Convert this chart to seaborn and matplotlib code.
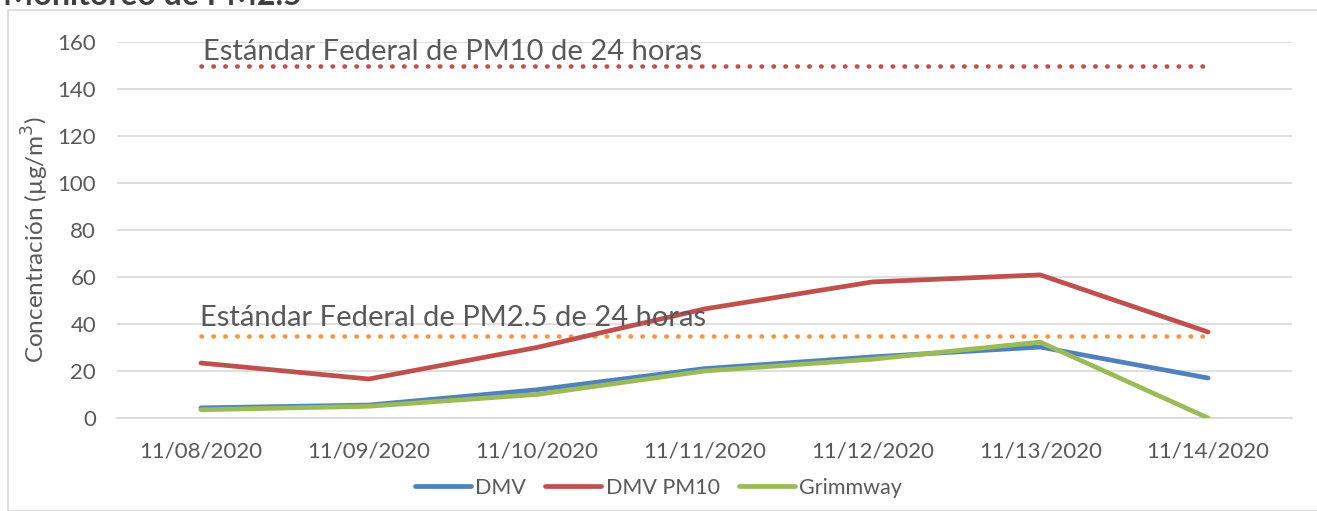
import pandas as pd
import matplotlib.pyplot as plt
import seaborn as sns
from matplotlib.patches import Rectangle

# --- data ---
dates = ["11/08/2020", "11/09/2020", "11/10/2020", "11/11/2020",
         "11/12/2020", "11/13/2020", "11/14/2020"]
dmv = [4.3, 5.5, 12.0, 21.0, 26.0, 30.2, 17.0]
dmv_pm10 = [23.4, 16.6, 30.0, 46.4, 57.9, 60.9, 36.6]
grimmway = [3.5, 5.0, 10.0, 20.0, 25.0, 32.3, 0.0]
pm10_std = 150
pm25_std = 35

series = {"DMV": dmv, "DMV PM10": dmv_pm10, "Grimmway": grimmway}
colors = {"DMV": "#4f81bd", "DMV PM10": "#c0504d", "Grimmway": "#9bbb59"}

df = pd.DataFrame([
    {"fecha": d, "serie": name, "valor": v}
    for name, vals in series.items()
    for d, v in zip(dates, vals)
])

sns.set_style("white")
plt.rcParams["font.family"] = ["Lato", "DejaVu Sans"]
text_color = "#595959"

fig = plt.figure(figsize=(13.17, 5.11), dpi=100)
ax = fig.add_axes([117 / 1317, 1 - 418 / 511, (1292 - 117) / 1317, (418 - 42) / 511])

# outer chart border, title sits mostly above the visible area
fig.patches.append(Rectangle((8 / 1317, 0), 1.0, 1 - 10 / 511, transform=fig.transFigure,
                             fill=False, edgecolor="#d9d9d9", linewidth=1.2, zorder=0))
fig.text(0.002, 1 - 5 / 511, "Monitoreo de PM2.5", fontsize=23, fontweight="bold",
         color="#404040", va="baseline", ha="left")

# standards (dotted)
ax.plot(dates, [pm10_std] * len(dates), color="#c0504d", linewidth=3.3,
        linestyle=(0, (0.1, 2.5)), dash_capstyle="round", zorder=2)
ax.plot(dates, [pm25_std] * len(dates), color="#f79646", linewidth=3.3,
        linestyle=(0, (0.1, 2.5)), dash_capstyle="round", zorder=2)

sns.lineplot(data=df, x="fecha", y="valor", hue="serie", palette=colors,
             linewidth=3.4, ax=ax, sort=False, zorder=3)
for ln in ax.get_lines():
    ln.set_solid_capstyle("round")

ax.text(0.012, 152.5, "Estándar Federal de PM10 de 24 horas", fontsize=21,
        color=text_color, va="baseline", ha="left")
ax.text(-0.006, 39.0, "Estándar Federal de PM2.5 de 24 horas", fontsize=21,
        color=text_color, va="baseline", ha="left")

ax.set_xlim(-0.5, len(dates) - 0.5)
ax.set_ylim(0, 160)
ax.set_yticks(range(0, 161, 20))
ax.grid(axis="y", color="#d9d9d9", linewidth=1.2)
ax.grid(axis="x", visible=False)
for s in ["top", "right", "left"]:
    ax.spines[s].set_visible(False)
ax.spines["bottom"].set_color("#d9d9d9")
ax.spines["bottom"].set_linewidth(1.2)

ax.set_xticks(range(len(dates)))
ax.set_xticklabels(dates)
ax.set_xticks([i - 0.5 for i in range(len(dates) + 1)], minor=True)
ax.tick_params(axis="x", which="major", length=0, pad=17, labelsize=16, labelcolor=text_color)
ax.tick_params(axis="x", which="minor", length=8, color="#d9d9d9", width=1.2)
ax.tick_params(axis="y", length=0, pad=15, labelsize=16, labelcolor=text_color)

ax.set_xlabel("")
ax.set_ylabel("Concentración (µg/m$^3$)", fontsize=17.5, color=text_color)
ax.yaxis.set_label_coords(-0.056, 0.475)

handles, labels = ax.get_legend_handles_labels()
ax.legend(handles, labels, loc="center", bbox_to_anchor=(0.5, 1 - 488 / 511),
          bbox_transform=fig.transFigure, ncol=3, frameon=False, fontsize=15.5,
          handlelength=2.6, handletextpad=0.2, columnspacing=0.9, labelcolor=text_color)

fig.savefig("out.png", dpi=100)
